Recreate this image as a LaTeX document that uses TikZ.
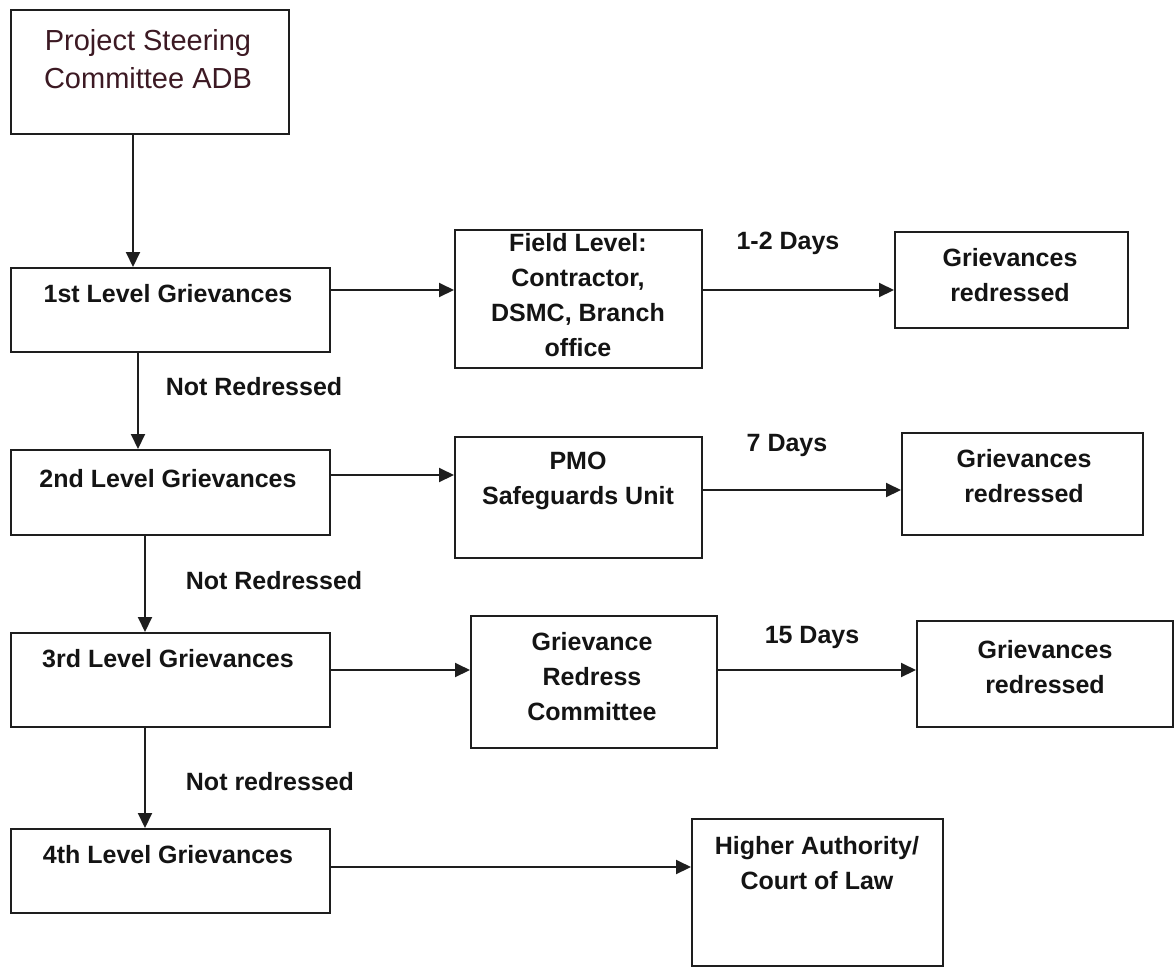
\documentclass[tikz,border=0pt]{standalone}
\usepackage{fontspec}
\setmainfont{Liberation Sans}
\usetikzlibrary{positioning, arrows.meta}
\definecolor{boxline} {RGB}{30, 30, 30}
\definecolor{textdark}{RGB}{20, 20, 20}
\definecolor{titlered}{RGB}{60, 25, 35}
\tikzset{
  gbox/.style={
    draw=boxline, line width=2pt, rectangle, inner sep=0pt, fill=white
  },
  gtext/.style={
    align=center, text=textdark, inner sep=0pt,
    font=\fontsize{25}{35}\selectfont\bfseries
  },
  gtitle/.style={
    align=center, text=titlered, inner sep=0pt,
    font=\fontsize{29}{38}\selectfont
  },
  garrow/.style={
    -{Triangle[length=15pt, width=14pt]}, line width=2pt, draw=boxline
  },
}

\begin{document}
\begin{tikzpicture}[x=1pt, y=-1pt]
  \useasboundingbox (0,0) rectangle (1175,967);
  % left column: the four levels
  \node[gbox, minimum width=278pt, minimum height=124pt] (psc) at (150,72) {};
  \node[gtitle] (psct) at (148,59) {Project Steering\\Committee ADB};
  \node[gbox, minimum width=319pt, minimum height=84pt] (l1) at (170.5,310) {};
  \node[gtext] (l1t) at (168,294) {1st Level\ Grievances};
  \node[gbox, minimum width=319pt, minimum height=85pt] (l2) at (170.5,492.5) {};
  \node[gtext] (l2t) at (168,479) {2nd Level Grievances};
  \node[gbox, minimum width=319pt, minimum height=94pt] (l3) at (170.5,680) {};
  \node[gtext] (l3t) at (168,659) {3rd Level Grievances};
  \node[gbox, minimum width=319pt, minimum height=84pt] (l4) at (170.5,871) {};
  \node[gtext] (l4t) at (168,855) {4th Level\ Grievances};

  % middle column: who handles it
  \node[gbox, minimum width=247pt, minimum height=138pt] (field) at (578.5,299) {};
  \node[gtext] (fieldt) at (578,295) {Field Level:\\Contractor,\\DSMC, Branch\\office};
  \node[gbox, minimum width=247pt, minimum height=121pt] (pmo) at (578.5,497.5) {};
  \node[gtext] (pmot) at (578,481) {PMO\\Safeguards Unit};
  \node[gbox, minimum width=246pt, minimum height=132pt] (grc) at (594,682) {};
  \node[gtext] (grct) at (592,677) {Grievance\\Redress\\Committee};
  \node[gbox, minimum width=251pt, minimum height=147pt] (hac) at (817.5,892.5) {};
  \node[gtext] (hact) at (817,863) {Higher Authority/\\Court of Law};

  % right column: outcome
  \node[gbox, minimum width=233pt, minimum height=96pt] (gr1) at (1011.5,280) {};
  \node[gtext] (gr1t) at (1010,275) {Grievances\\redressed};
  \node[gbox, minimum width=241pt, minimum height=102pt] (gr2) at (1022.5,484) {};
  \node[gtext] (gr2t) at (1024,476) {Grievances\\redressed};
  \node[gbox, minimum width=256pt, minimum height=106pt] (gr3) at (1045,674) {};
  \node[gtext] (gr3t) at (1045,667) {Grievances\\redressed};

  % labels on the arrows
  \node[gtext] (d1) at (788,243) {1-2 Days};
  \node[gtext] (d2) at (787,445) {7 Days};
  \node[gtext] (d3) at (812,637) {15 Days};
  \node[gtext] (nr1) at (254,387) {Not Redressed};
  \node[gtext] (nr2) at (274,581) {Not Redressed};
  \node[gtext] (nr3) at (270,782) {Not redressed};

  % downward arrows
  \draw[garrow] ([xshift=-17pt]psc.south) -- ([xshift=-17pt]psc.south |- l1.north);
  \draw[garrow] ([xshift=-32.5pt]l1.south) -- ([xshift=-32.5pt]l1.south |- l2.north);
  \draw[garrow] ([xshift=-25.5pt]l2.south) -- ([xshift=-25.5pt]l2.south |- l3.north);
  \draw[garrow] ([xshift=-25.5pt]l3.south) -- ([xshift=-25.5pt]l3.south |- l4.north);

  % arrows to the right
  \draw[garrow] ([yshift=20pt]l1.east) -- ([yshift=20pt]l1.east -| field.west);
  \draw[garrow] ([yshift=9pt]field.east) -- ([yshift=9pt]field.east -| gr1.west);
  \draw[garrow] ([yshift=17.5pt]l2.east) -- ([yshift=17.5pt]l2.east -| pmo.west);
  \draw[garrow] ([yshift=7.5pt]pmo.east) -- ([yshift=7.5pt]pmo.east -| gr2.west);
  \draw[garrow] ([yshift=10pt]l3.east) -- ([yshift=10pt]l3.east -| grc.west);
  \draw[garrow] ([yshift=12pt]grc.east) -- ([yshift=12pt]grc.east -| gr3.west);
  \draw[garrow] ([yshift=4pt]l4.east) -- ([yshift=4pt]l4.east -| hac.west);
\end{tikzpicture}
\end{document}
